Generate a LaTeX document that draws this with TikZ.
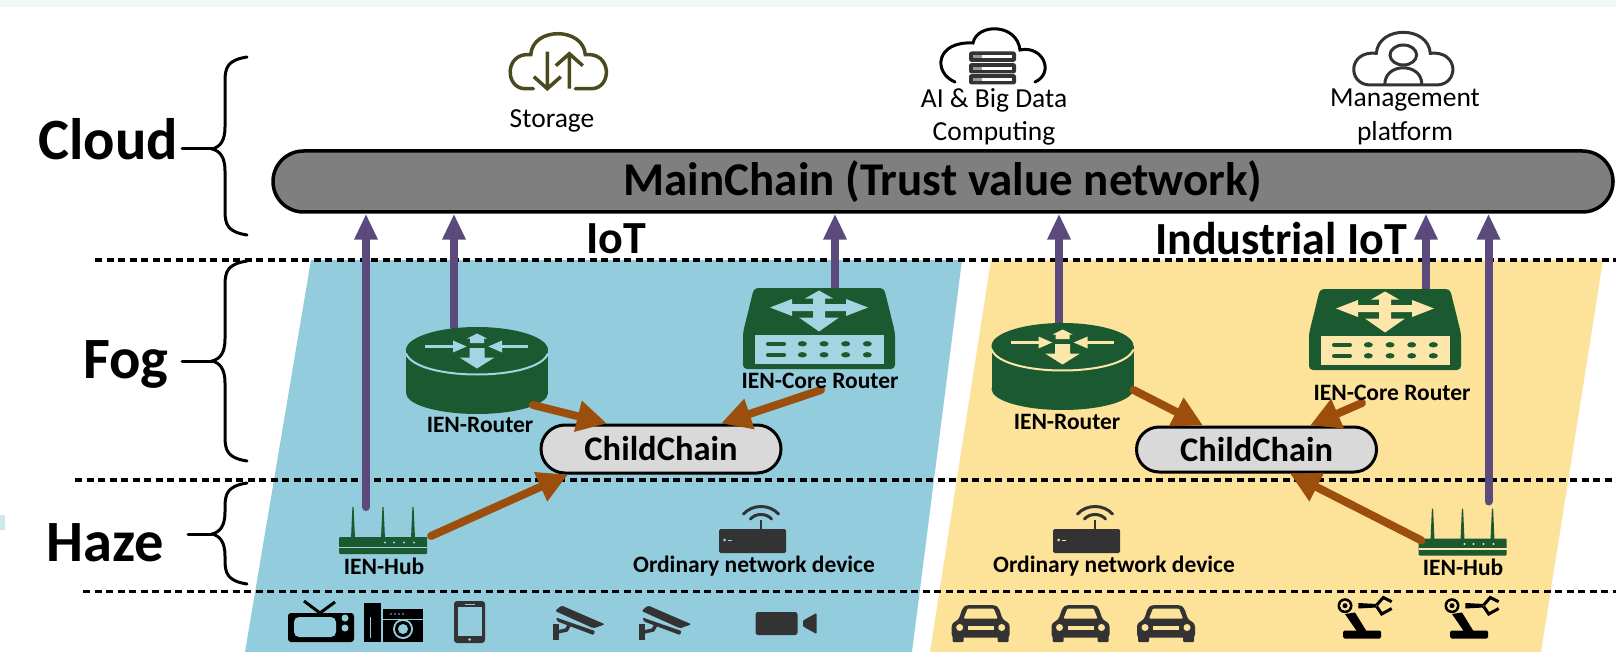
\documentclass[tikz,border=0pt]{standalone}
\usepackage{fontspec}
\setmainfont{Carlito}
\usetikzlibrary{arrows.meta,shapes.misc}
\definecolor{bluebg}{HTML}{93CDDD}
\definecolor{yellowbg}{HTML}{FDE29A}
\definecolor{ien}{HTML}{1B5A30}
\definecolor{lightic}{HTML}{A8D8DC}
\definecolor{purplear}{HTML}{5B4A7B}
\definecolor{orangear}{HTML}{9C4F0C}
\definecolor{chainmain}{HTML}{7F7F7F}
\definecolor{chainchild}{HTML}{D9D9D9}
\definecolor{darkic}{HTML}{333333}
\definecolor{olive}{HTML}{4B4A1E}
\definecolor{stripc}{HTML}{F0F8FA}
\colorlet{icfill}{bluebg!85!white}
\tikzset{
  x=1pt,y=-1pt,
  box/.style={inner sep=0pt,outer sep=0pt,draw=none,minimum width=#1},
  layerlabel/.style={font=\bfseries\fontsize{58.5}{58.5}\selectfont,inner sep=0pt},
  zonelabel/.style={font=\bfseries\fontsize{46}{46}\selectfont,inner sep=0pt},
  devlabel/.style={font=\bfseries\fontsize{23.5}{23.5}\selectfont,inner sep=0pt},
  svclabel/.style={font=\fontsize{27.5}{27.5}\selectfont,inner sep=0pt},
  mainchain/.style={rounded rectangle,draw=black,line width=3.5pt,fill=chainmain,minimum width=1340pt,minimum height=61pt,inner sep=0pt,font=\bfseries\fontsize{47}{47}\selectfont},
  childchain/.style={rounded rectangle,draw=black,line width=3pt,fill=chainchild,minimum width=240pt,minimum height=#1,inner sep=0pt,font=\bfseries\fontsize{34.5}{34.5}\selectfont},
  levelline/.style={line width=3.5pt,dash pattern=on 7pt off 4.5pt},
  bracecurve/.style={line width=3pt,line cap=round},
  uplink/.style={purplear,line width=8pt,line cap=round,-{Triangle[width=22pt,length=26pt]}},
  chainlink/.style={orangear,line width=8pt,line cap=round,-{Triangle[width=30pt,length=30pt]}},
  lightarrow/.style={icfill,line width=3pt,-{Triangle[width=11pt,length=14pt]}},
  routerpic/.pic={
    \fill[ien] (0,-20.5) ellipse [x radius=71pt,y radius=23pt];
    \fill[ien] (-71,-20.5) rectangle (71,22.5);
    \fill[ien] (0,22.5) ellipse [x radius=71pt,y radius=21pt];
    \draw[icfill,line width=2pt] (-71,-17) .. controls (-60,11) and (60,11) .. (71,-17);
    \draw[lightarrow] (-52,-24) -- (-10,-24);
    \draw[lightarrow] (51,-24) -- (11,-24);
    \fill[icfill] (-7,-27.5) -- (-7,-32) -- (-10,-32) -- (0,-37) -- (10,-32) -- (7,-32) -- (7,-27.5) -- cycle;
    \fill[icfill] (-7.5,-22.5) -- (7.5,-22.5) -- (7.5,-13) -- (17.5,-13) -- (0,-2) -- (-17.5,-13) -- (-7.5,-13) -- cycle;
  },
  corepic/.pic={
    \fill[ien,rounded corners=4pt] (-65,-40.5) -- (65,-40.5) -- (76,4) -- (76,40.5) -- (-76,40.5) -- (-76,4) -- cycle;
    \fill[icfill] (-64,6) rectangle (65,35);
    \fill[icfill] (-49,-21) -- (-27,-29.5) -- (-27,-24.5) -- (-6,-24.5) -- (-6,-30) -- (-14,-30) -- (0,-38) -- (14,-30) -- (6,-30) -- (6,-24.5) -- (27,-24.5) -- (27,-29.5) -- (49,-21) -- (27,-12.5) -- (27,-17.5) -- (6,-17.5) -- (6,-11) -- (20,-11) -- (0,3) -- (-20,-11) -- (-6,-11) -- (-6,-17.5) -- (-27,-17.5) -- (-27,-12.5) -- cycle;
    \foreach \yy in {15.3,26.3}{
      \draw[ien,line width=4pt,line cap=round] (-51,\yy) -- (-35,\yy);
      \foreach \xx in {-16.7,5,26.7,48.3}
        \fill[ien] (\xx,\yy) ellipse [x radius=4.5pt,y radius=2.7pt];
    }
  },
  hubpic/.pic={
    \foreach \xx in {-30,0,30}
      \fill[ien] (\xx-2,8) -- (\xx-.6,-23.5) -- (\xx+.6,-23.5) -- (\xx+2,8) -- cycle;
    \fill[ien,rounded corners=1pt] (-44,6.5) rectangle (44,23.5);
    \draw[icfill,line width=1.2pt] (-44,17) -- (44,17);
    \foreach \xx in {2,11,21,31}
      \fill[icfill] (\xx,12) circle [radius=1.2pt];
  },
  devicepic/.pic={
    \fill[darkic,rounded corners=1.5pt] (-33.5,-1) rectangle (33.5,23);
    \draw[darkic,line width=2.5pt] (8.5,-10) -- (8.5,0);
    \draw[darkic,line width=3pt,line cap=round] (-2,-11) .. controls (3,-17) and (14,-17) .. (19,-11);
    \draw[darkic,line width=3pt,line cap=round] (-9,-16) .. controls (0,-26) and (17,-26) .. (26,-16);
    \fill[icfill] (-28,10) circle [radius=1.5pt];
    \draw[icfill,line width=.8pt] (-25,10) -- (-21,10);
  },
  tvpic/.pic={
    \draw[black,line width=3pt] (-17,-20) -- (-1,-8) -- (14,-19);
    \fill[black,rounded corners=3pt] (-33,-8) rectangle (33,21);
    \fill[bluebg,rounded corners=5pt] (-27,-4) rectangle (15,16);
    \fill[bluebg] (24,-3) circle [radius=3.5pt] (24,7) circle [radius=3.5pt];
  },
  washpic/.pic={
    \fill[black] (-30,-19) rectangle (-13,20);
    \draw[bluebg,line width=1pt] (-24,-5) -- (-24,16);
    \fill[black] (-11,-13) rectangle (29,20);
    \draw[bluebg,line width=1pt] (-11,-3) -- (29,-3);
    \foreach \xx in {-3,1,5,9} \fill[bluebg] (\xx,-8) circle [radius=.9pt];
    \fill[bluebg] (9,7) circle [radius=10pt];
    \fill[black] (9,7) circle [radius=8pt];
    \fill[bluebg] (9,7) circle [radius=5pt];
  },
  phonepic/.pic={
    \fill[darkic,rounded corners=3pt] (-15.5,-21) rectangle (15.5,21);
    \fill[bluebg] (-12,-15) rectangle (12,14);
    \fill[bluebg] (0,17.5) circle [radius=1.5pt];
    \draw[bluebg,line width=1pt] (-5,-18) -- (5,-18);
  },
  campic/.pic={
    \fill[darkic,rounded corners=1.5pt] (-23.5,-11.5) -- (-17,-17) -- (26.5,1.8) -- (15,5.8) -- cycle;
    \fill[darkic,rounded corners=1pt] (-22.5,-5) -- (16.5,8.5) -- (15,12.5) -- (-21,-1) -- cycle;
    \fill[darkic] (-26,1) rectangle (-20,17);
    \draw[darkic,line width=3.5pt] (-21,9.5) -- (-12,7.5) -- (-9,2);
  },
  videopic/.pic={
    \fill[darkic,rounded corners=2.5pt] (-30.5,-11.5) rectangle (11.5,11.5);
    \fill[darkic,rounded corners=1pt] (17,-3) -- (30.5,-10.5) -- (30.5,10.5) -- (17,3) -- cycle;
  },
  carpic/.pic={
    \fill[darkic,rounded corners=3pt] (-29,14) -- (-29,0) -- (-22,-4) -- (-18,-16) -- (-14,-18.5) -- (14,-18.5) -- (18,-16) -- (22,-4) -- (29,0) -- (29,14) -- cycle;
    \fill[darkic,rounded corners=1pt] (-28,12) rectangle (-17,18.5) (17,12) rectangle (28,18.5);
    \fill[yellowbg,rounded corners=1pt] (-13,-15) -- (13,-15) -- (17,-5) -- (-17,-5) -- cycle;
    \fill[yellowbg] (-21,4) circle [radius=3.5pt] (21,4) circle [radius=3.5pt];
    \fill[yellowbg] (-13,2) rectangle (13,6);
  },
  robotpic/.pic={
    \fill[black,rounded corners=1.5pt] (-22,13) rectangle (16,21);
    \fill[black] (-20,-3.5) -- (-10,-5) -- (1.7,14) -- (-8,14) -- cycle;
    \fill[black] (-20,-11.8) circle [radius=7.5pt];
    \fill[yellowbg] (-20,-11.8) circle [radius=5pt];
    \fill[black] (-20,-11.8) circle [radius=2.5pt];
    \fill[black] (-6.7,-14.5) -- (11.7,-13.5) -- (11.7,-10) -- (-6.7,-9) -- cycle;
    \draw[black,line width=3pt] (11.7,-12.5) -- (18.3,-20) -- (26.7,-15.8);
    \draw[black,line width=3pt] (11.7,-11) -- (16.7,-3.5) -- (26.7,-9);
  },
  cloudstore/.pic={
    \draw[olive,line width=3.5pt,line cap=round] (-25,27) -- (-33,27) .. controls (-54,27) and (-54,-10) .. (-27.5,-7) .. controls (-26,-35) and (25,-35) .. (27,-7) .. controls (54,-10) and (54,27) .. (33,27) -- (17,27);
    \draw[olive,line width=3.5pt] (-11,-10) -- (-11,27) (-24.5,15) -- (-11,27) -- (2.5,15);
    \draw[olive,line width=3.5pt] (11,27) -- (11,-8) (-2.5,4) -- (11,-8) -- (24.5,4);
  },
  cloudserver/.pic={
    \draw[black,line width=3pt,line cap=round] (-38,27) .. controls (-60,18) and (-58,-14) .. (-20,-12) .. controls (-16,-32) and (24,-32) .. (27,-5) .. controls (50,-10) and (62,18) .. (42,27);
    \foreach \yy in {1.7,13.3,24.3}{
      \fill[darkic,rounded corners=2.5pt] (-24,\yy-5.2) rectangle (23,\yy+5.2);
      \fill[white] (-11,\yy-1.5) rectangle (19,\yy+1.5);
      \fill[white!60!black] (-20,\yy-1.5) rectangle (-11,\yy+1.5);
    }
  },
  clouduser/.pic={
    \draw[darkic,line width=3pt] (-33,25.7) .. controls (-56,25.7) and (-56,-9) .. (-27,-6) .. controls (-25,-34) and (25,-34) .. (27,-6) .. controls (56,-9) and (56,25.7) .. (33,25.7) -- cycle;
    \draw[darkic,line width=3pt] (0,-4.3) ellipse [x radius=13.3pt,y radius=10pt];
    \draw[darkic,line width=3pt] (-18.5,25) .. controls (-18.5,3) and (18.5,3) .. (18.5,25);
  },
}
\newcommand{\bracedraw}[3]{% top, tip, bottom y
  \draw[bracecurve] (247,#1) .. controls (228,#1+3) and (225,#1+10) .. (225,#1+24) -- (225,#2-22) .. controls (225,#2-8) and (220,#2-2) .. (212,#2) .. controls (220,#2+2) and (225,#2+8) .. (225,#2+22) -- (225,#3-24) .. controls (225,#3-10) and (228,#3-3) .. (247,#3);
}
\begin{document}
\begin{tikzpicture}
\useasboundingbox (0,0) rectangle (1616,652);
\fill[white] (0,0) rectangle (1616,652);
\fill[stripc] (0,0) rectangle (1616,7);
\fill[lightic!60] (0,515) rectangle (5,530);
% zones
\fill[bluebg] (311,260) -- (962,260) -- (912,652) -- (245,652) -- cycle;
\fill[yellowbg] (991,260) -- (1603,260) -- (1541,652) -- (930,652) -- cycle;
% level lines
\coordinate (lineA) at (95,260); \coordinate (lineAe) at (1616,260);
\coordinate (lineB) at (75,480); \coordinate (lineBe) at (1616,480);
\coordinate (lineC) at (83,591.5); \coordinate (lineCe) at (1616,591.5);
\draw[levelline] (lineA) -- (lineAe);
\draw[levelline] (lineB) -- (lineBe);
\draw[levelline] (lineC) -- (lineCe);
% braces and layer labels
\bracedraw{57}{149}{235}
\bracedraw{261}{361}{461}
\bracedraw{483}{534}{584}
\node[layerlabel] (cloudL) at (108,139) {Cloud};
\node[layerlabel] (fogL) at (126,364) {Fog};
\node[layerlabel] (hazeL) at (105,543) {Haze};
\coordinate (cloudTip) at (212,149);
\coordinate (fogTip) at (212,361);
\coordinate (hazeTip) at (212,534);
\draw[bracecurve] (cloudTip) -- ++(-30,0);
\draw[bracecurve] (fogTip) -- ++(-30,0);
\draw[bracecurve] (hazeTip) -- ++(-24,0);
% chains
\node[mainchain] (main) at (943,181.5) {MainChain (Trust value network)};
\node[childchain=48pt] (childL) at (661,449) {ChildChain};
\node[childchain=45pt] (childR) at (1256.5,449.5) {ChildChain};
% zone labels
\node[zonelabel] (iot) at (616,239) {IoT};
\node[zonelabel] (iiot) at (1281,239) {Industrial IoT};
% device anchors
\node[box=142pt,minimum height=87pt] (routerL) at (477,370.5) {};
\node[box=152pt,minimum height=81pt] (coreL) at (819,328.5) {};
\node[box=88pt,minimum height=47pt] (hubL) at (383,530.5) {};
\node[box=142pt,minimum height=87pt] (routerR) at (1062.5,366.5) {};
\node[box=152pt,minimum height=81pt] (coreR) at (1385,329.5) {};
\node[box=88pt,minimum height=47pt] (hubR) at (1462.5,532) {};
% links
\draw[uplink] ([xshift=-17pt]hubL.north) coordinate (u1) -- (u1 |- main.south);
\draw[uplink] ([xshift=-23pt]routerL.north) coordinate (u2) -- (u2 |- main.south);
\draw[uplink] ([xshift=16pt]coreL.north) coordinate (u3) -- (u3 |- main.south);
\draw[uplink] ([xshift=-3.5pt]routerR.north) coordinate (u4) -- (u4 |- main.south);
\draw[uplink] ([xshift=41pt]coreR.north) coordinate (u5) -- (u5 |- main.south);
\draw[uplink] ([xshift=26pt,yshift=7pt]hubR.north) coordinate (u6) -- (u6 |- main.south);
% icons
\colorlet{icfill}{bluebg!85!white}
\pic at (routerL) {routerpic};
\pic at (coreL) {corepic};
\pic at (hubL) {hubpic};
\node[box=67pt,minimum height=46pt] (devL) at (752.5,530) {};
\pic at (devL) {devicepic};
\colorlet{icfill}{yellowbg!85!white}
\pic at (routerR) {routerpic};
\pic at (coreR) {corepic};
\pic at (hubR) {hubpic};
\node[box=67pt,minimum height=46pt] (devR) at (1086.5,530) {};
\pic at (devR) {devicepic};
\draw[chainlink] ([xshift=-15pt,yshift=9pt]routerL.south east) -- ([xshift=-54pt]childL.north);
\draw[chainlink] ([xshift=2pt,yshift=-21pt]coreL.south) -- ([xshift=60pt]childL.north);
\draw[chainlink] ([xshift=48pt,yshift=18pt]hubL.south) -- ([xshift=-93pt]childL.south);
\draw[chainlink] ([yshift=20pt]routerR.south east) -- ([xshift=-53.5pt]childR.north);
\draw[chainlink] ([xshift=-23pt,yshift=-33pt]coreR.south) -- ([xshift=53.5pt]childR.north);
\draw[chainlink] ([xshift=-41pt,yshift=15pt]hubR.south) -- ([xshift=33.5pt]childR.south);
\node[devlabel] (lblRouterL) at (480,425) {IEN-Router};
\node[devlabel] (lblCoreL) at (820,381) {IEN-Core Router};
\node[devlabel] (lblHubL) at (384,566) {IEN-Hub};
\node[devlabel] (lblRouterR) at (1067,422) {IEN-Router};
\node[devlabel] (lblCoreR) at (1392,393) {IEN-Core Router};
\node[devlabel] (lblHubR) at (1463,567) {IEN-Hub};
\node[devlabel] (lblDevL) at (754,566) {Ordinary network device};
\node[devlabel] (lblDevR) at (1114,566) {Ordinary network device};
% bottom row
\pic at (321,621) {tvpic};
\pic at (394,622) {washpic};
\pic at (469.5,622) {phonepic};
\pic at (578.5,622.5) {campic};
\pic at (665,622.5) {campic};
\pic at (786,623.5) {videopic};
\pic at (980.7,623.5) {carpic};
\pic at (1080.5,623.5) {carpic};
\pic at (1166,623.5) {carpic};
\pic at (1365,617.5) {robotpic};
\pic at (1472,617.5) {robotpic};
% cloud services
\pic at (558.3,61.7) {cloudstore};
\pic at (993,55) {cloudserver};
\pic at (1403.3,59.3) {clouduser};
\node[svclabel] (lblStore) at (552,121) {Storage};
\node[svclabel,align=center] (lblAi) at (994,117) {AI \& Big Data\\[6pt]Computing};
\node[svclabel,align=center] (lblMgmt) at (1405,117) {Management\\[6pt]platform};
\end{tikzpicture}
\end{document}
